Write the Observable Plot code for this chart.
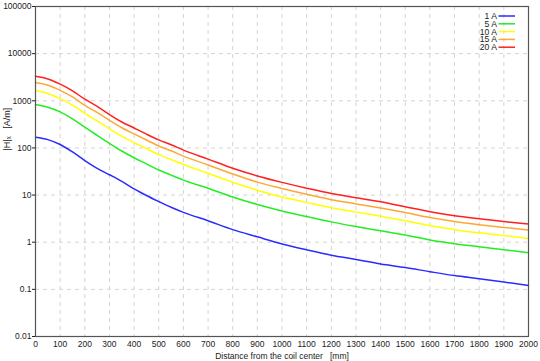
<!DOCTYPE html>
<html>
<head>
<meta charset="utf-8">
<script src="https://cdn.jsdelivr.net/npm/d3@7"></script>
<script src="https://cdn.jsdelivr.net/npm/@observablehq/plot@0.6"></script>
<style>
  body { margin: 0; background: #fff; }
  #wrap { position: relative; width: 540px; height: 361px; font-family: "Liberation Sans", Arial, sans-serif; }
  #legend { position: absolute; left: 460px; top: 8px; }
</style>
</head>
<body>
<div id="wrap"></div>
<script>
const distance = [0, 50, 100, 150, 200, 250, 300, 350, 400, 450, 500, 550, 600, 700, 800, 900, 1000, 1100, 1200, 1300, 1400, 1500, 1600, 1700, 1800, 1900, 2000];
const h1A  = [168, 150, 118, 82, 54, 37, 27, 19.5, 13.5, 9.8, 7.3, 5.5, 4.3, 2.85, 1.85, 1.3, 0.92, 0.69, 0.53, 0.43, 0.345, 0.29, 0.237, 0.196, 0.168, 0.143, 0.121];
const h5A  = [832, 730, 580, 415, 275, 185, 125, 86, 62, 46, 34, 26.5, 20.8, 14, 9.1, 6.3, 4.6, 3.5, 2.7, 2.15, 1.75, 1.42, 1.12, 0.93, 0.8, 0.69, 0.6];
const h10A = [1650, 1430, 1110, 810, 540, 375, 255, 178, 130, 97, 72, 57, 44.5, 29, 18.7, 12.7, 9.1, 7.0, 5.4, 4.35, 3.55, 2.85, 2.25, 1.84, 1.58, 1.38, 1.2];
const h15A = [2430, 2130, 1660, 1210, 800, 565, 385, 268, 198, 147, 110, 87, 67, 43.5, 28, 18.8, 13.8, 10.4, 8.0, 6.5, 5.3, 4.25, 3.35, 2.76, 2.36, 2.06, 1.82];
const h20A = [3300, 2900, 2250, 1630, 1080, 760, 510, 355, 265, 196, 148, 117, 90, 58, 37, 25.5, 18.6, 14, 10.8, 8.8, 7.2, 5.65, 4.45, 3.66, 3.15, 2.75, 2.43];
const seriesNames = ["1 A", "5 A", "10 A", "15 A", "20 A"];
const seriesColors = ["#2b2bff", "#22ee22", "#ffff00", "#ffa733", "#ff2020"];
const xTicks = d3.range(0, 2001, 100);
const yTicks = [0.01, 0.1, 1, 10, 100, 1000, 10000, 100000];
const xLabel = "Distance from the coil center   [mm]";
const yLabel = "|H|ₓ   [A/m]";

const allSeries = [h1A, h5A, h10A, h15A, h20A];
const rows = [];
allSeries.forEach((vals, i) => {
  vals.forEach((v, j) => rows.push({series: seriesNames[i], x: distance[j], y: v}));
});

const chart = Plot.plot({
  width: 540,
  height: 361,
  marginLeft: 35,
  marginRight: 12,
  marginTop: 6,
  marginBottom: 25,
  style: {fontFamily: "Liberation Sans, Arial, sans-serif", fontSize: "8.5px", color: "#222", background: "#fff"},
  x: {domain: [0, 2000]},
  y: {type: "log", domain: [0.01, 100000]},
  color: {domain: seriesNames, range: seriesColors},
  marks: [
    Plot.gridX(xTicks, {stroke: "#d4d4d4", strokeOpacity: 1, strokeDasharray: "4,4"}),
    Plot.gridY(yTicks, {stroke: "#d4d4d4", strokeOpacity: 1, strokeDasharray: "4,4"}),
    Plot.line(rows, {x: "x", y: "y", z: "series", stroke: "series", strokeWidth: 1.5, curve: "monotone-x"}),
    Plot.frame({stroke: "#555", strokeWidth: 1.2}),
    Plot.axisX({ticks: xTicks, tickFormat: d => String(d), tickSize: 0, tickPadding: 4, label: xLabel, labelAnchor: "center", labelArrow: "none", labelOffset: 22, fontSize: "8.5px"}),
    Plot.axisY({ticks: yTicks, tickFormat: d => String(d), tickSize: 3, tickPadding: 1, label: null}),
    Plot.text([yLabel], {frameAnchor: "left", rotate: -90, dx: -28, dy: -21, fontSize: 9, fill: "#222"})
  ]
});

const wrap = document.getElementById("wrap");
wrap.appendChild(chart);

// legend (inside the plot, top right)
const rowH = 7.8;
const leg = d3.create("svg")
  .attr("id", "legend")
  .attr("width", 60)
  .attr("height", 50);
const g = leg.selectAll("g").data(seriesNames).join("g")
  .attr("transform", (d, i) => `translate(0,${8 + i * rowH})`);
g.append("text")
  .attr("x", 37)
  .attr("dy", "0.35em")
  .attr("text-anchor", "end")
  .attr("font-family", "Liberation Sans, Arial, sans-serif")
  .attr("font-size", 8.6)
  .attr("fill", "#222")
  .text(d => d);
g.append("line")
  .attr("x1", 38.5).attr("x2", 55)
  .attr("stroke", (d, i) => seriesColors[i])
  .attr("stroke-width", 1.5);
wrap.appendChild(leg.node());
</script>
</body>
</html>
